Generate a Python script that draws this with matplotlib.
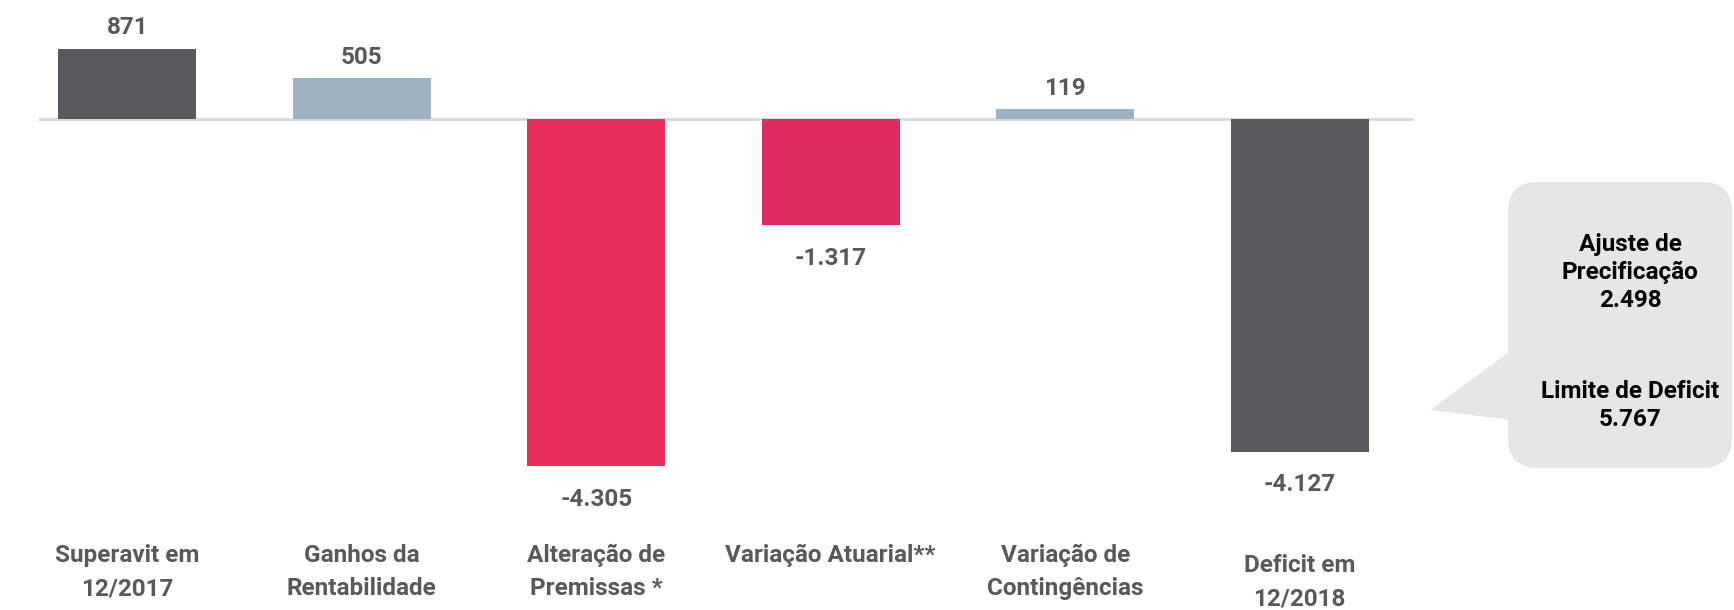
import numpy as np
import matplotlib
matplotlib.use('Agg')
import matplotlib.pyplot as plt
from matplotlib.patches import FancyBboxPatch, Polygon

plt.rcParams['font.family'] = ['Roboto', 'DejaVu Sans']

# data
categories = ['Superavit em\n12/2017', 'Ganhos da\nRentabilidade', 'Alteração de\nPremissas *',
              'Variação Atuarial**', 'Variação de\nContingências', 'Deficit em\n12/2018']
values = [871, 505, -4305, -1317, 119, -4127]
bar_colors = ['#58595B', '#9DB3C4', '#EB2F5B', '#DD2A5F', '#9DB3C4', '#58595B']
ajuste_precificacao = 2498
limite_deficit = 5767

text_color = '#595959'
fs = 17.5

def fmt(v):
    return f"{v:,}".replace(',', '.')

W, H = 1734, 610
fig = plt.figure(figsize=(W / 100, H / 100), dpi=100)
ax = fig.add_axes([0, 0, 1, 1])

x = np.arange(len(values))
ax.bar(x, values, width=0.59, color=bar_colors, zorder=2)
ax.axhline(0, xmin=40 / W, xmax=1412 / W, color='#D9D9D9', lw=2, zorder=1)

# px per unit ~0.0806, baseline at 119px from top
scale = 0.0806
base = 119
ax.set_xlim(-127.2 / 234.5, (W - 127.2) / 234.5)
ax.set_ylim(-(H - base) / scale, base / scale)
ax.axis('off')

for xi, v in zip(x, values):
    off = 15 if v > 0 else -24
    ax.annotate(fmt(v), (xi, v), xytext=(0, off), textcoords='offset points',
                ha='center', va='center', fontsize=fs, fontweight='bold', color=text_color)

# category labels
trans = ax.get_xaxis_transform()
for xi, lab in zip(x, categories):
    ytop = 1 - 544 / H if not lab.startswith('Deficit') else 1 - 554 / H
    ax.text(xi, ytop, lab, transform=trans, ha='center', va='top', fontsize=fs,
            fontweight='bold', color=text_color, linespacing=1.56)

# callout bubble (pixel coords overlay)
ov = fig.add_axes([0, 0, 1, 1], facecolor='none')
ov.set_xlim(0, W)
ov.set_ylim(H, 0)
ov.axis('off')
bubble_color = '#E6E6E6'
ov.add_patch(FancyBboxPatch((1508, 182), 224, 286, boxstyle='round,pad=0,rounding_size=30',
                            fc=bubble_color, ec='none'))
ov.add_patch(Polygon([[1430, 410], [1512, 350], [1512, 420]], closed=True, fc=bubble_color, ec='none'))

ov.text(1630, 233, 'Ajuste de\nPrecificação\n' + fmt(ajuste_precificacao), ha='center', va='top',
        fontsize=fs, fontweight='bold', color='black', linespacing=1.28)
ov.text(1630, 380, 'Limite de Deficit\n' + fmt(limite_deficit), ha='center', va='top',
        fontsize=fs, fontweight='bold', color='black', linespacing=1.28)

fig.savefig('out.png', dpi=100)
